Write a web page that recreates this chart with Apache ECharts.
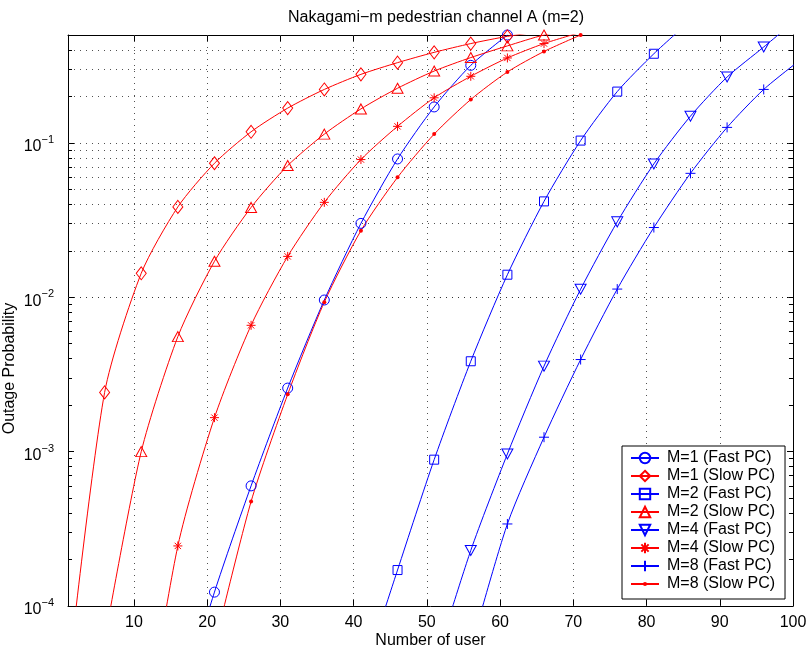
<!DOCTYPE html>
<html>
<head>
<meta charset="utf-8">
<script src="https://cdn.jsdelivr.net/npm/echarts@6/dist/echarts.min.js"></script>
<style>
html, body { margin: 0; padding: 0; background: #fff; }
#chart { width: 806px; height: 650px; }
</style>
</head>
<body>
<div id="chart"></div>
<script>
// number of users (markers every 5 users)
var users = [1, 6, 11, 16, 21, 26, 31, 36, 41, 46, 51, 56, 61, 66, 71, 76, 81, 86, 91, 96, 101];

// outage probability
var m1Fast = [null, null, null, 2e-5, 1.23e-4, 6.0e-4, 2.58e-3, 9.6e-3, 0.0301, 0.0787, 0.171, 0.318, 0.5];
var m1Slow = [3.4e-5, 2.42e-3, 0.0143, 0.0385, 0.0738, 0.118, 0.168, 0.222, 0.278, 0.331, 0.386, 0.44, 0.49, 0.53];
var m2Fast = [null, null, null, null, null, null, null, null, 3.2e-5, 1.71e-4, 8.87e-4, 3.85e-3, 0.014, 0.0418, 0.1035, 0.215, 0.378, 0.62];
var m2Slow = [null, 6e-5, 1.0e-3, 5.56e-3, 0.0171, 0.0382, 0.0713, 0.114, 0.166, 0.226, 0.292, 0.357, 0.425, 0.5, 0.55];
var m4Fast = [null, null, null, null, null, null, null, null, null, null, 4.1e-5, 2.29e-4, 9.66e-4, 3.58e-3, 0.01127, 0.0308, 0.0731, 0.149, 0.267, 0.418, 0.66];
var m4Slow = [null, null, 1e-5, 2.45e-4, 1.66e-3, 6.58e-3, 0.0184, 0.0412, 0.078, 0.128, 0.196, 0.27, 0.355, 0.44, 0.52];
var m8Fast = [null, null, null, null, null, null, null, null, null, null, null, 5.3e-5, 3.4e-4, 1.24e-3, 3.95e-3, 0.0113, 0.0283, 0.0635, 0.126, 0.222, 0.345];
var m8Slow = [null, null, null, null, 5.5e-5, 4.75e-4, 2.35e-3, 9.3e-3, 0.027, 0.0598, 0.114, 0.191, 0.288, 0.391, 0.5];

var seriesNames = ['M=1 (Fast PC)', 'M=1 (Slow PC)', 'M=2 (Fast PC)', 'M=2 (Slow PC)',
                   'M=4 (Fast PC)', 'M=4 (Slow PC)', 'M=8 (Fast PC)', 'M=8 (Slow PC)'];

// axis ticks
var xLabels = [10, 20, 30, 40, 50, 60, 70, 80, 90, 100];
var xGrid = [10, 20, 30, 40, 50, 60, 70, 80, 90];
var yDecades = [1e-4, 1e-3, 1e-2, 1e-1];
var yMantissa = [1, 2, 3, 4, 5, 6, 7, 8, 9];
var xMin = 1, xMax = 100, yMin = 1e-4, yMax = 0.5;

var FONT = 'Liberation Sans, Arial, Helvetica, sans-serif';
var BLUE = '#0000ff', RED = '#ff0000';

var chart = echarts.init(document.getElementById('chart'));

function pairs(vals) {
    var out = [];
    for (var i = 0; i < vals.length; i++) {
        if (vals[i] != null) out.push([users[i], vals[i]]);
    }
    return out;
}

// marker shapes (MATLAB style)
var downTri = 'path://M0,0 L10,0 L5,9 Z';
var asterisk = 'path://M5,0 L5,10 M0,5 L10,5 M1.5,1.5 L8.5,8.5 M8.5,1.5 L1.5,8.5';
var plus = 'path://M5,0 L5,10 M0,5 L10,5';
// small dot inside an empty 10x10 box, so the legend keeps it small too
var dot = 'path://M0,0 M10,10 M7,5 A2,2 0 1,1 3,5 A2,2 0 1,1 7,5 Z';

function curve(name, vals, color, symbol, size, filled) {
    return {
        name: name,
        type: 'line',
        data: pairs(vals),
        smooth: 0.25,
        clip: true,
        z: 5,
        symbol: symbol,
        symbolSize: size,
        showAllSymbol: true,
        lineStyle: { color: color, width: 1 },
        itemStyle: {
            color: filled ? color : 'rgba(0,0,0,0)',
            borderColor: color,
            borderWidth: filled ? 0 : 1
        },
        emphasis: { disabled: true },
        animation: false
    };
}

// dotted grid lines and minor ticks, through the axes' own scales
var gridLines = [];
xGrid.forEach(function (v) { gridLines.push({ xAxis: v }); });
var minorTicks = [];
yDecades.forEach(function (d) {
    yMantissa.forEach(function (m) {
        var v = m * d;
        if (v > yMin * 1.0001 && v < yMax) {
            gridLines.push({ yAxis: v });
            if (m > 1) {
                minorTicks.push([{ coord: [xMin, v] }, { coord: [xMin + 0.55, v] }]);
                minorTicks.push([{ coord: [xMax, v] }, { coord: [xMax - 0.55, v] }]);
            }
        }
    });
});

var series = [
    {
        name: 'grid', type: 'line', data: [], z: 1, silent: true, animation: false,
        markLine: {
            silent: true, symbol: ['none', 'none'], animation: false,
            label: { show: false },
            lineStyle: { color: '#333', width: 1, type: [1, 5], opacity: 0.85 },
            emphasis: { disabled: true },
            data: gridLines
        }
    },
    {
        name: 'ticks', type: 'line', data: [], z: 2, silent: true, animation: false,
        markLine: {
            silent: true, symbol: ['none', 'none'], animation: false,
            label: { show: false },
            lineStyle: { color: '#000', width: 1, type: 'solid' },
            emphasis: { disabled: true },
            data: minorTicks
        }
    },
    curve(seriesNames[0], m1Fast, BLUE, 'circle', 10, false),
    curve(seriesNames[1], m1Slow, RED, 'diamond', [10, 13], false),
    curve(seriesNames[2], m2Fast, BLUE, 'rect', 9, false),
    curve(seriesNames[3], m2Slow, RED, 'triangle', [11, 10], false),
    curve(seriesNames[4], m4Fast, BLUE, downTri, [11, 10], false),
    curve(seriesNames[5], m4Slow, RED, asterisk, 9, false),
    curve(seriesNames[6], m8Fast, BLUE, plus, 10, false),
    curve(seriesNames[7], m8Slow, RED, dot, 10, true)
];

function supLabel(v) {
    var l = Math.log(v) / Math.LN10;
    var p = Math.round(l);
    if (Math.abs(l - p) > 1e-6) return '';
    return '{b|10}{sup|' + (p < 0 ? '\u2212' + (-p) : p) + '}';
}

var option = {
    backgroundColor: '#fff',
    animation: false,
    textStyle: { fontFamily: FONT },
    title: {
        text: 'Nakagami\u2212m pedestrian channel A (m=2)',
        left: 431, top: 5, textAlign: 'center',
        textStyle: { fontFamily: FONT, fontSize: 16, fontWeight: 'normal', color: '#000' }
    },
    grid: { left: 68, right: 13, top: 35, bottom: 44, containLabel: false, outerBoundsMode: 'none' },
    legend: {
        data: seriesNames,
        orient: 'vertical',
        left: 622, top: 446,
        padding: [3, 10, 6, 8],
        itemWidth: 28, itemHeight: 13, itemGap: 0,
        backgroundColor: '#fff',
        borderColor: '#000', borderWidth: 1, borderRadius: 0,
        selectedMode: false,
        textStyle: { fontFamily: FONT, fontSize: 16, lineHeight: 18, color: '#000', padding: [0, 0, 0, 3] },
        z: 20
    },
    xAxis: [
        {
            type: 'value', position: 'bottom', min: xMin, max: xMax,
            name: 'Number of user', nameLocation: 'middle', nameGap: 27, nameMoveOverlap: false,
            nameTextStyle: { fontFamily: FONT, fontSize: 16, color: '#000' },
            axisLine: { onZero: false, lineStyle: { color: '#000', width: 1 } },
            axisTick: { inside: true, length: 6, customValues: xGrid, lineStyle: { color: '#000' } },
            axisLabel: { customValues: xLabels, margin: 9, fontFamily: FONT, fontSize: 16, color: '#000' },
            splitLine: { show: false }
        },
        {
            type: 'value', position: 'top', min: xMin, max: xMax,
            axisLine: { onZero: false, lineStyle: { color: '#000', width: 1 } },
            axisTick: { inside: true, length: 6, customValues: xGrid, lineStyle: { color: '#000' } },
            axisLabel: { show: false },
            splitLine: { show: false }
        }
    ],
    yAxis: [
        {
            type: 'log', logBase: 10, position: 'left', min: yMin, max: yMax,
            name: 'Outage Probability', nameLocation: 'middle', nameGap: 50, nameRotate: 90,
            nameMoveOverlap: false,
            nameTextStyle: { fontFamily: FONT, fontSize: 16, color: '#000', padding: [0, 96, 0, 0] },
            axisLine: { onZero: false, lineStyle: { color: '#000', width: 1 } },
            axisTick: { inside: true, length: 6, lineStyle: { color: '#000' } },
            axisLabel: {
                formatter: supLabel, margin: 14, align: 'right',
                rich: {
                    b: { fontFamily: FONT, fontSize: 16, color: '#000', padding: [8, 0, 0, 0] },
                    sup: { fontFamily: FONT, fontSize: 11, color: '#000', padding: [0, 0, 6, 0] }
                }
            },
            splitLine: { show: false }
        },
        {
            type: 'log', logBase: 10, position: 'right', min: yMin, max: yMax,
            axisLine: { onZero: false, lineStyle: { color: '#000', width: 1 } },
            axisTick: { inside: true, length: 6, lineStyle: { color: '#000' } },
            axisLabel: { show: false },
            splitLine: { show: false }
        }
    ],
    series: series
};

chart.setOption(option);
</script>
</body>
</html>
